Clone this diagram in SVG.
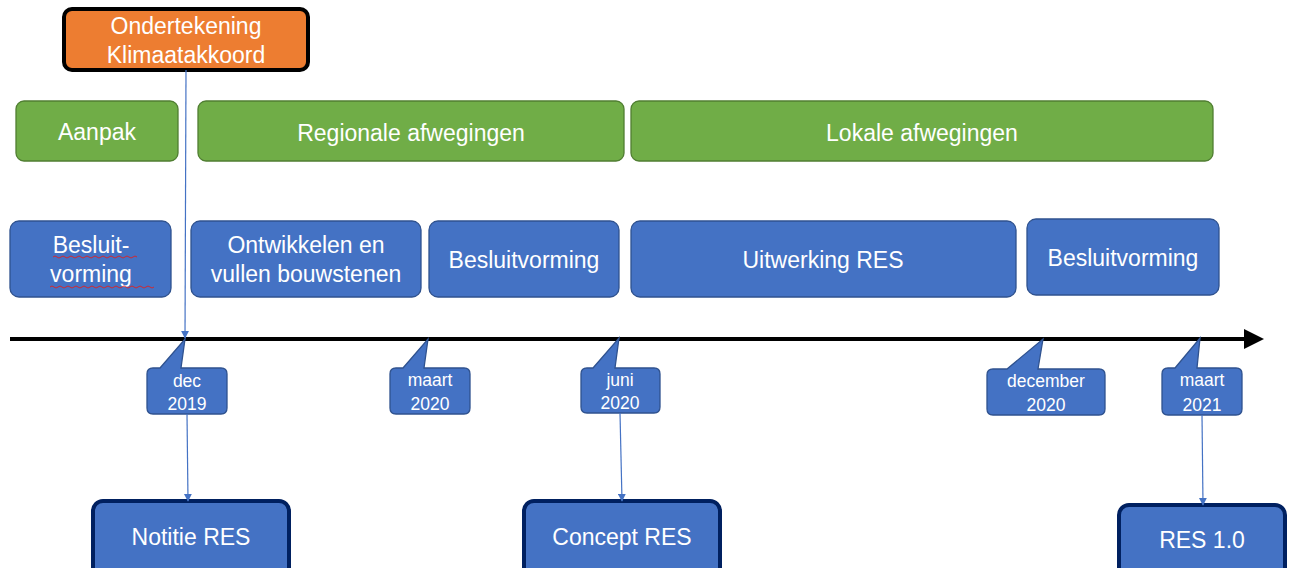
<svg xmlns="http://www.w3.org/2000/svg" width="1294" height="568" viewBox="0 0 1294 568">
<defs>
<style>
.t{font-family:"Liberation Sans",Arial,sans-serif;fill:#fff;text-anchor:middle}
.b{font-size:23px}
.s{font-size:17.5px}
.green{fill:#70AD47;stroke:#507E32;stroke-width:1.3}
.blue{fill:#4472C4;stroke:#2F528F;stroke-width:1.3}
.out{fill:#4472C4;stroke:#002060;stroke-width:4}
.conn{stroke:#4472C4;stroke-width:1.2;fill:none}
</style>
<marker id="ah" viewBox="0 0 10 10" refX="9" refY="5" markerWidth="8" markerHeight="8" markerUnits="userSpaceOnUse" orient="auto">
<path d="M0,0 L10,5 L0,10 z" fill="#4472C4"/>
</marker>
<marker id="big" viewBox="0 0 10 10" refX="2" refY="5" markerWidth="5" markerHeight="5" orient="auto">
<path d="M0,0 L10,5 L0,10 z" fill="#000"/>
</marker>
</defs>
<g id="timeline">
<line x1="10" y1="339" x2="1248" y2="339" stroke="#000" stroke-width="4" marker-end="url(#big)"/>
</g>
<g id="ondertekening">
<rect x="64" y="9" width="244" height="61" rx="8" fill="#ED7D31" stroke="#000" stroke-width="4"/>
<text class="t b" x="186" y="34">Ondertekening</text>
<text class="t b" x="186" y="63">Klimaatakkoord</text>
</g>
<g id="aanpak"><rect class="green" x="16" y="101" width="162" height="60" rx="8"/><text class="t b" x="97" y="140">Aanpak</text></g>
<g id="regionale"><rect class="green" x="198" y="101" width="426" height="60" rx="8"/><text class="t b" x="411" y="141">Regionale afwegingen</text></g>
<g id="lokale"><rect class="green" x="631" y="101" width="582" height="60" rx="8"/><text class="t b" x="922" y="141">Lokale afwegingen</text></g>
<g id="besluit1"><rect class="blue" x="10" y="221" width="161" height="76" rx="9"/>
<text class="t b" x="91" y="253">Besluit-</text><text class="t b" x="91" y="282">vorming</text>
<path d="M53,257 q2,-2 4,0 t4,0 t4,0 t4,0 t4,0 t4,0 t4,0 t4,0 t4,0 t4,0 t4,0 t4,0 t4,0 t4,0 t4,0 t4,0 t4,0 t4,0 t4,0 t4,0 t4,0" fill="none" stroke="#E02020" stroke-width="0.9"/>
<path d="M50,287 q2,-2 4,0 t4,0 t4,0 t4,0 t4,0 t4,0 t4,0 t4,0 t4,0 t4,0 t4,0 t4,0 t4,0 t4,0 t4,0 t4,0 t4,0 t4,0 t4,0 t4,0 t4,0 t4,0 t4,0 t4,0 t4,0 t4,0" fill="none" stroke="#E02020" stroke-width="0.9"/>
</g>
<g id="ontwikkelen"><rect class="blue" x="191" y="221" width="230" height="76" rx="9"/>
<text class="t b" x="306" y="253">Ontwikkelen en</text><text class="t b" x="306" y="282">vullen bouwstenen</text></g>
<g id="besluit2"><rect class="blue" x="429" y="221" width="190" height="76" rx="9"/><text class="t b" x="524" y="268">Besluitvorming</text></g>
<g id="uitwerking"><rect class="blue" x="631" y="221" width="385" height="76" rx="9"/><text class="t b" x="823" y="268">Uitwerking RES</text></g>
<g id="besluit3"><rect class="blue" x="1027" y="219" width="192" height="76" rx="9"/><text class="t b" x="1123" y="266">Besluitvorming</text></g>
<g id="dec2019"><path class="blue" d="M153,368 L160,368 L185,339 L181,368 L221,368 Q227,368 227,374 L227,408 Q227,414 221,414 L153,414 Q147,414 147,408 L147,374 Q147,368 153,368 Z"/>
<text class="t s" x="187" y="387">dec</text><text class="t s" x="187" y="410">2019</text></g>
<g id="maart2020"><path class="blue" d="M396,368 L403,368 L428,339 L424,368 L464,368 Q470,368 470,374 L470,408 Q470,414 464,414 L396,414 Q390,414 390,408 L390,374 Q390,368 396,368 Z"/>
<text class="t s" x="430" y="386">maart</text><text class="t s" x="430" y="410">2020</text></g>
<g id="juni2020"><path class="blue" d="M587,368 L593,368 L619,338 L615,368 L654,368 Q660,368 660,374 L660,407 Q660,413 654,413 L587,413 Q581,413 581,407 L581,374 Q581,368 587,368 Z"/>
<text class="t s" x="620" y="386">juni</text><text class="t s" x="620" y="409">2020</text></g>
<g id="dec2020"><path class="blue" d="M993,369 L1007,369 L1043,339 L1038,369 L1099,369 Q1105,369 1105,375 L1105,409 Q1105,415 1099,415 L993,415 Q987,415 987,409 L987,375 Q987,369 993,369 Z"/>
<text class="t s" x="1046" y="387">december</text><text class="t s" x="1046" y="411">2020</text></g>
<g id="maart2021"><path class="blue" d="M1168,368 L1175,368 L1200,338 L1197,368 L1236,368 Q1242,368 1242,374 L1242,409 Q1242,415 1236,415 L1168,415 Q1162,415 1162,409 L1162,374 Q1162,368 1168,368 Z"/>
<text class="t s" x="1202" y="386">maart</text><text class="t s" x="1202" y="411">2021</text></g>
<g id="notitie"><rect class="out" x="93" y="501" width="196" height="80" rx="10"/><text class="t b" x="191" y="545">Notitie RES</text></g>
<g id="concept"><rect class="out" x="524" y="501" width="196" height="80" rx="10"/><text class="t b" x="622" y="545">Concept RES</text></g>
<g id="res10"><rect class="out" x="1119" y="505" width="166" height="80" rx="10"/><text class="t b" x="1202" y="548">RES 1.0</text></g>
<g id="connectors">
<line class="conn" x1="186" y1="70" x2="185" y2="338" marker-end="url(#ah)"/>
<line class="conn" x1="187" y1="414" x2="188" y2="501" marker-end="url(#ah)"/>
<line class="conn" x1="620" y1="413" x2="622" y2="501" marker-end="url(#ah)"/>
<line class="conn" x1="1202" y1="415" x2="1203" y2="505" marker-end="url(#ah)"/>
</g>
</svg>
